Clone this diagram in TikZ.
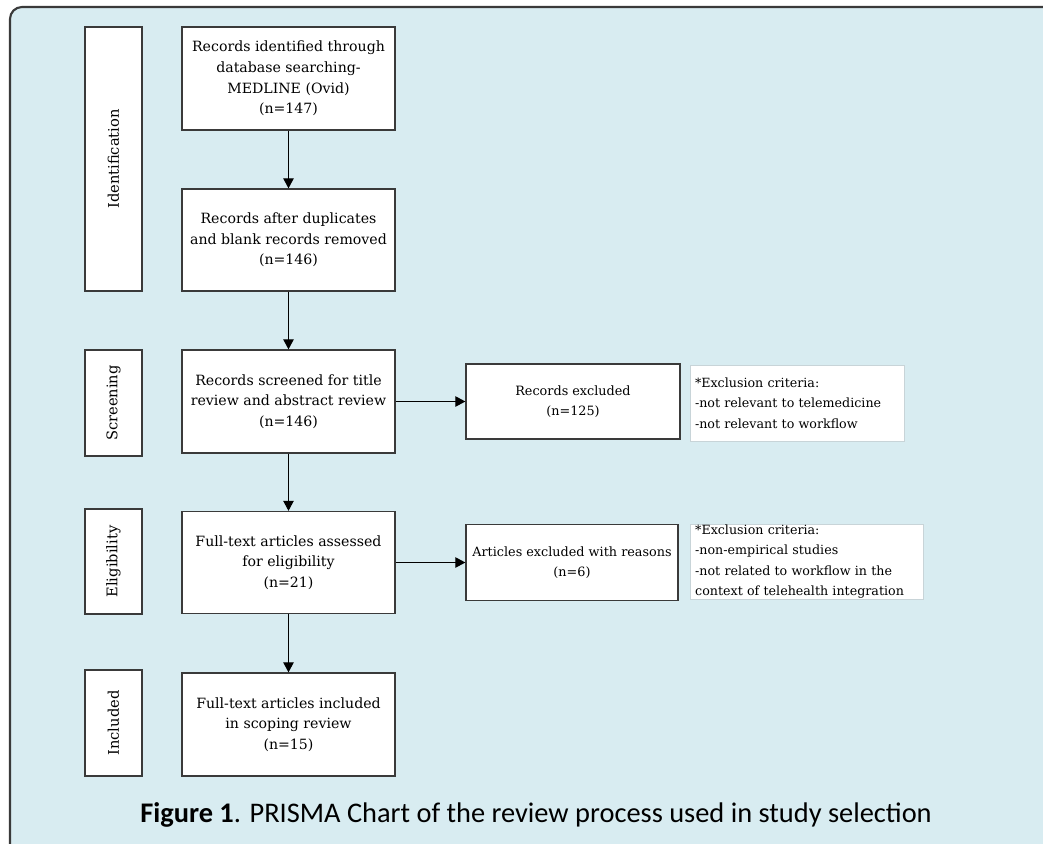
\documentclass[tikz,border=0pt]{standalone}
\usepackage{fontspec}
\setmainfont{DejaVu Serif}
\newfontfamily\capfont{Carlito}
\usetikzlibrary{arrows.meta}
\hyphenpenalty=10000
\exhyphenpenalty=10000
\definecolor{bgblue}{HTML}{D8ECF1}
\definecolor{edge}{HTML}{3A3A3A}
\definecolor{critedge}{HTML}{C8D4D8}
\tikzset{
  wh/.style 2 args={minimum width=#1*0.75pt, minimum height=#2*0.75pt},
  box/.style={draw=edge, line width=0.95pt, fill=white, align=center, inner sep=0pt,
    font=\fontsize{10.6}{15.5}\selectfont},
  exbox/.style={box, font=\fontsize{9.6}{15.5}\selectfont},
  sidebox/.style={draw=edge, line width=0.95pt, fill=white, inner sep=0pt},
  sidelabel/.style={rotate=90, font=\fontsize{11}{12}\selectfont},
  critbox/.style={draw=critedge, line width=0.5pt, fill=white, align=left, inner xsep=3.5pt, inner ysep=0pt,
    font=\fontsize{9.5}{15.4}\selectfont, text width=#1},
  conn/.style={draw=black, line width=0.8pt, -{Triangle[length=7.5pt,width=7.8pt]}},
}
\begin{document}
\begin{tikzpicture}[x=0.75pt,y=-0.75pt]
\useasboundingbox (0,0) rectangle (1043,843);
\draw[draw=edge, line width=1.6pt, fill=bgblue, rounded corners=9pt] (10,7) rectangle (1070,870);

% side labels
\node[sidebox, wh={57}{264}] (sI) at (113.5,159) {};
\node[sidelabel] (lI) at (sI.center) {Identification};
\node[sidebox, wh={57}{106}] (sS) at (113.5,403) {};
\node[sidelabel] (lS) at (sS.center) {Screening};
\node[sidebox, wh={57}{105}] (sE) at (113.5,561.5) {};
\node[sidelabel] (lE) at (sE.center) {Eligibility};
\node[sidebox, wh={57}{106}] (sN) at (113.5,723) {};
\node[sidelabel] (lN) at (sN.center) {Included};

% main boxes
\node[box, wh={213}{103}] (b1) at (288.5,78.5) {Records identified through\\database searching-\\MEDLINE (Ovid)\\(n=147)};
\node[box, wh={213}{102}] (b2) at (288.5,240) {Records after duplicates\\and blank records removed\\(n=146)};
\node[box, wh={213}{103}] (b3) at (288.5,401.5) {Records screened for title\\review and abstract review\\(n=146)};
\node[box, wh={213}{102}] (b4) at (288.5,562.5) {Full-text articles assessed\\for eligibility\\(n=21)};
\node[box, wh={213}{103}] (b5) at (288.5,724.5) {Full-text articles included\\in scoping review\\(n=15)};

\node[exbox, wh={214}{75}] (x1) at (573,401.5) {Records excluded\\(n=125)};
\node[exbox, wh={212}{76}] (x2) at (572,562.5) {Articles excluded with reasons\\(n=6)};

\node[critbox=153pt, wh={214}{76}] (c1) at (797,403) {*Exclusion criteria:\\-not relevant to telemedicine\\-not relevant to workflow};
\node[critbox=167pt, wh={233}{75}] (c2) at (806.5,561.5) {*Exclusion criteria:\\-non-empirical studies\\-not related to workflow in the\\context of telehealth integration};

% connectors
\draw[conn] (b1) -- (b2);
\draw[conn] (b2) -- (b3);
\draw[conn] (b3) -- (b4);
\draw[conn] (b4) -- (b5);
\draw[conn] (b3.east) -- (x1.west);
\draw[conn] (b4.east) -- (x2.west);

\node[font=\capfont\fontsize{21.3}{24}\selectfont] (cap) at (536,815) {\textbf{Figure 1}. PRISMA Chart of the review process used in study selection};
\end{tikzpicture}
\end{document}
